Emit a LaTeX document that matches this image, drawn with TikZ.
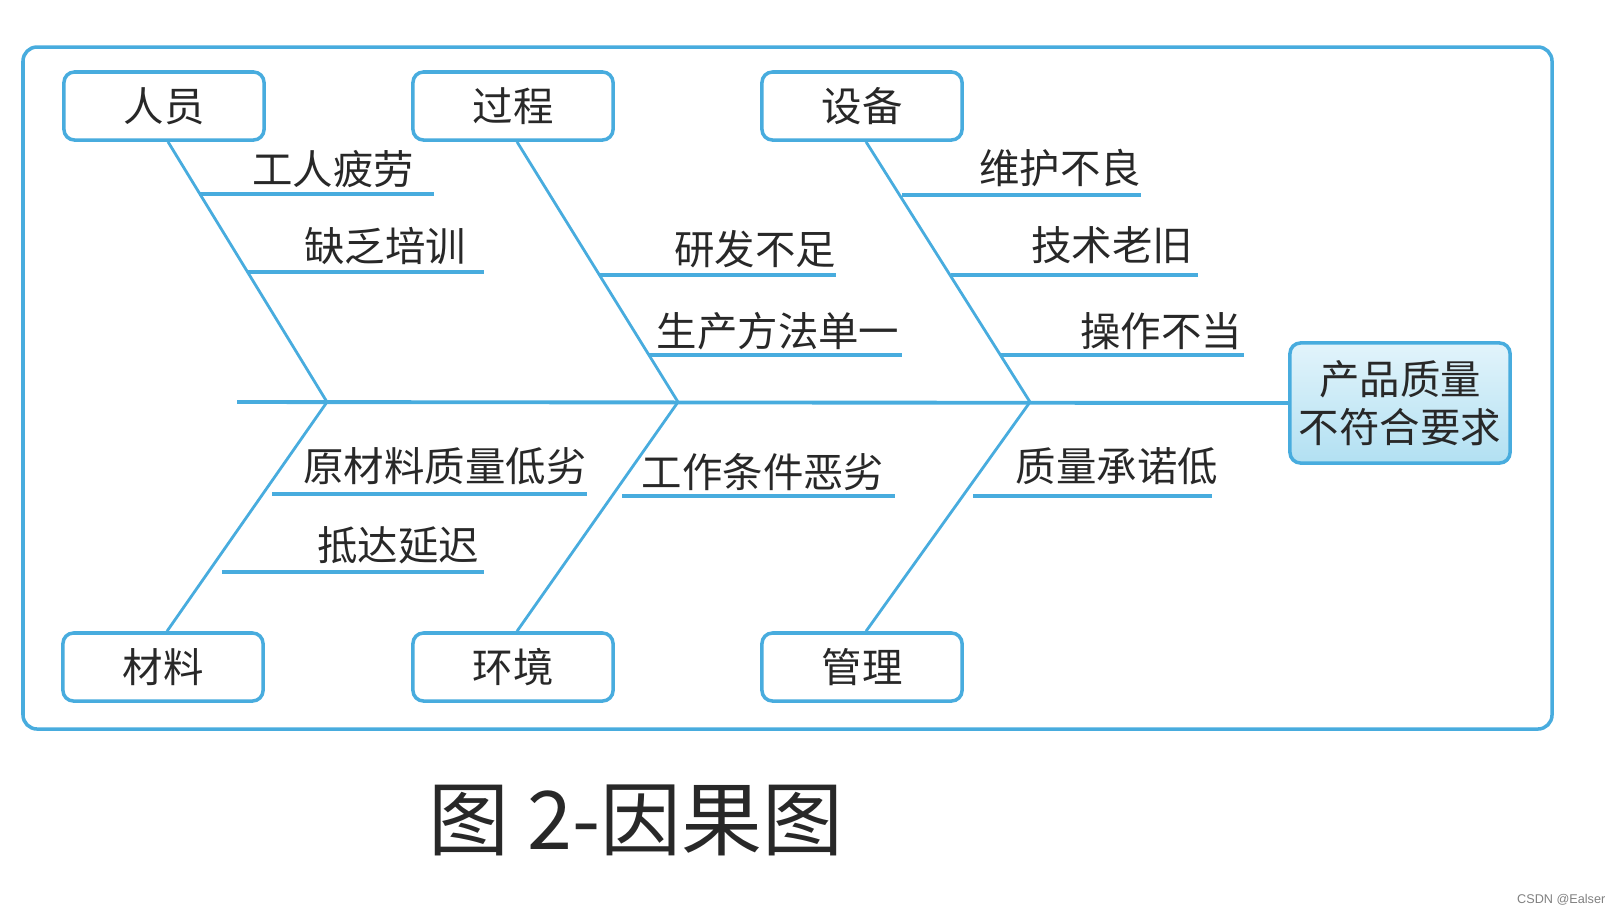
\documentclass[tikz,border=0pt]{standalone}
\usepackage{fontspec}
\newfontfamily\cjk{Noto Sans CJK SC}
\newfontfamily\wmfont{Liberation Sans}
\usetikzlibrary{positioning, calc}
\definecolor{fishblue}{RGB}{72,172,222}
\definecolor{textgray}{RGB}{40,40,40}
\definecolor{efftop}{RGB}{226,244,251}
\definecolor{effbot}{RGB}{178,224,242}
\tikzset{
  catbox/.style={draw=fishblue, line width=1pt, rounded corners=3pt, fill=white,
                 minimum width=2cm, minimum height=0.68cm, inner sep=0pt,
                 font=\cjk\fontsize{11.5}{13.5}\selectfont, text=textgray},
  effbox/.style={draw=fishblue, line width=1pt, rounded corners=3pt,
                 top color=efftop, bottom color=effbot, align=center,
                 minimum width=2.2cm, minimum height=1.2cm, inner sep=0pt,
                 font=\cjk\fontsize{11.5}{13.8}\selectfont, text=textgray},
  bone/.style={fishblue, line width=0.8pt},
  spine/.style={fishblue, line width=1.1pt},
  subline/.style={fishblue, line width=1pt},
  cause/.style={font=\cjk\fontsize{11.5}{13.5}\selectfont, text=textgray, inner sep=0pt},
}

\begin{document}
\begin{tikzpicture}[x=0.01cm,y=-0.01cm]
\useasboundingbox (0,0) rectangle (1622,914);

% ── Outer frame ──────────────────────────────────────────────────────────────
\draw[fishblue, line width=1pt, rounded corners=4pt] (23,47) rectangle (1552,729);

% ── Category boxes ───────────────────────────────────────────────────────────
\node[catbox] (ry) at (164,106) {人员};
\node[catbox] (gc) at (513,106) {过程};
\node[catbox] (sb) at (862,106) {设备};
\node[catbox] (cl) at (163,667) {材料};
\node[catbox] (hj) at (513,667) {环境};
\node[catbox] (gl) at (862,667) {管理};

% ── Effect (head) ────────────────────────────────────────────────────────────
\node[effbox] (eff) at (1400,403) {产品质量\\不符合要求};

% ── Spine and joints ─────────────────────────────────────────────────────────
\coordinate (tail) at (237,402);
\coordinate (j1) at (327,402);
\coordinate (j2) at (678,402);
\coordinate (j3) at (1030,402);
\draw[spine] (tail) -- (eff.west);

% Main bones from boxes to the spine
\foreach \b/\j in {ry/j1, gc/j2, sb/j3} {
  \draw[bone] ([xshift=0.4mm]\b.south) -- (\j);
}
\foreach \b/\j in {cl/j1, hj/j2, gl/j3} {
  \draw[bone] ([xshift=0.4mm]\b.north) -- (\j);
}

% ── Causes: line start/end, line y, label position, text ─────────────────────
\foreach \i/\xs/\xe/\yy/\tx/\ty/\txt in {
    1/199/434/194/333/169/工人疲劳,
    2/247/484/272/385/246/缺乏培训,
    3/600/836/275/755/249/研发不足,
    4/649/902/355/778/331/生产方法单一,
    5/902/1141/195/1060/168/维护不良,
    6/951/1198/275/1112/245/技术老旧,
    7/1000/1244/355/1161/331/操作不当,
    8/272/587/494/445/466/原材料质量低劣,
    9/222/484/572/398/545/抵达延迟,
    10/622/895/496/763/472/工作条件恶劣,
    11/973/1212/496/1117/466/质量承诺低} {
  \coordinate (s\i) at (\xs,\yy);
  \coordinate (e\i) at (\xe,\yy);
  \draw[subline] (s\i) -- (e\i);
  \node[cause] (c\i) at (\tx,\ty) {\txt};
}

% ── Caption ──────────────────────────────────────────────────────────────────
\node[font=\cjk\fontsize{23}{26}\selectfont, text=textgray] (cap) at (636,820) {图 2-因果图};
\node[font=\wmfont\fontsize{3.6}{4}\selectfont, text=gray, anchor=east, inner sep=0pt] (wm) at (1606,900) {CSDN @Ealser};

\end{tikzpicture}
\end{document}
